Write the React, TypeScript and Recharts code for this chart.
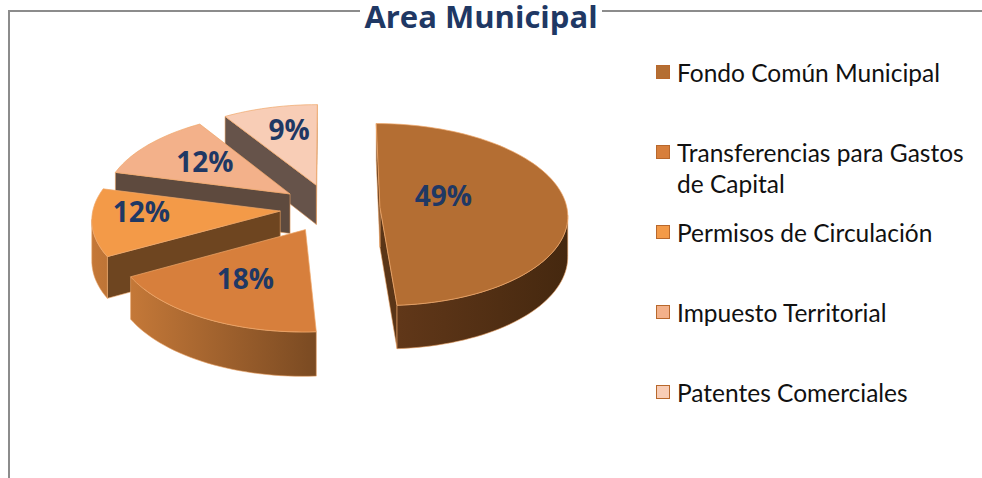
import React from "react";
import { PieChart, Pie, Legend } from "recharts";

const categories = [
  "Fondo Común Municipal",
  "Transferencias para Gastos de Capital",
  "Permisos de Circulación",
  "Impuesto Territorial",
  "Patentes Comerciales",
];
const shares = [49, 18, 12, 12, 9];
const percentLabels = ["49%", "18%", "12%", "12%", "9%"];

// slice colours (top face, radial wall, outer wall gradient)
const topColors = ["#B46E33", "#D77F3C", "#F39A48", "#F3B18A", "#F8CDB6"];
const sideColors = ["#5A3517", "#6E4520", "#6E4520", "#5E4A3E", "#66534A"];
const arcFrom = ["#64391A", "#C47838", "#C47838", "#B8744C", "#C8957A"];
const arcTo = ["#45280F", "#7A4A22", "#7A4A22", "#6E4A38", "#8A6A5A"];

// label placement on each top face (fraction of radius, angle shift)
const labelRadius = [0.37, 0.58, 0.74, 0.62, 0.7];
const labelShift = [19, -2, -7, -3, -3];

const K = 0.484;
const PERSP = 0.08;
const EXPLODE = 50;
const DEPTH = 40;
const NAVY = "#1F3864";

const rad = (d: number) => (d * Math.PI) / 180;

// Recharts draws sectors in data order, so feed them back-to-front
// and sweep counter-clockwise to keep the Excel layout
const pieData = shares
  .map((v, i) => ({ name: categories[i], value: v, idx: i }))
  .reverse();

const Slice3D = (props: any) => {
  const { cx, cy, outerRadius: R, startAngle, endAngle } = props;
  const i: number = props.idx ?? props.payload?.idx ?? 0;
  const a0 = Math.min(startAngle, endAngle);
  const a1 = Math.max(startAngle, endAngle);
  const mid = (a0 + a1) / 2;

  const proj = (X: number, Y: number, z: number) => {
    const p = 1 / (1 + (PERSP * Y) / R);
    return [cx + X * p, cy - Y * K * p + z * DEPTH * p];
  };

  const ax = EXPLODE * Math.cos(rad(mid));
  const ay = EXPLODE * Math.sin(rad(mid));
  const disk: number[][] = [[ax, ay]];
  const steps = Math.max(2, Math.ceil((a1 - a0) / 2));
  for (let s = 0; s <= steps; s++) {
    const t = a0 + ((a1 - a0) * s) / steps;
    disk.push([ax + R * Math.cos(rad(t)), ay + R * Math.sin(rad(t))]);
  }
  const top = disk.map(([X, Y]) => proj(X, Y, 0));
  const bot = disk.map(([X, Y]) => proj(X, Y, 1));

  let area = 0;
  for (let k = 0; k < top.length; k++) {
    const p = top[k];
    const q = top[(k + 1) % top.length];
    area += p[0] * q[1] - q[0] * p[1];
  }
  const visible = (k: number) => {
    const p = top[k];
    const q = top[(k + 1) % top.length];
    const dx = q[0] - p[0];
    return area > 0 ? dx < 0 : dx > 0;
  };
  const pts = (arr: number[][]) => arr.map((p) => `${p[0].toFixed(2)},${p[1].toFixed(2)}`).join(" ");

  const n = top.length;
  const radialWalls: React.ReactNode[] = [];
  [0, n - 1].forEach((k) => {
    if (!visible(k)) return;
    const k2 = (k + 1) % n;
    radialWalls.push(
      <polygon
        key={`r${k}`}
        points={pts([top[k], top[k2], bot[k2], bot[k]])}
        fill={sideColors[i]}
        stroke="#E9A266"
        strokeWidth={0.6}
      />
    );
  });

  const arcWalls: React.ReactNode[] = [];
  let run: number[] = [];
  const flush = () => {
    if (run.length) {
      const first = run[0];
      const last = run[run.length - 1] + 1;
      const upper = top.slice(first, last + 1);
      const lower = bot.slice(first, last + 1).reverse();
      arcWalls.push(
        <polygon
          key={`a${first}`}
          points={pts([...upper, ...lower])}
          fill={`url(#arcGrad${i})`}
          stroke="#E9A266"
          strokeWidth={0.6}
        />
      );
    }
    run = [];
  };
  for (let k = 1; k < n - 1; k++) {
    if (visible(k)) run.push(k);
    else flush();
  }
  flush();

  const xs = top.map((p) => p[0]);
  const minX = Math.min(...xs);
  const maxX = Math.max(...xs);

  const lr = labelRadius[i] * R;
  const la = rad(mid + labelShift[i]);
  const [lx, ly] = proj(ax + lr * Math.cos(la), ay + lr * Math.sin(la), 0);

  return (
    <g>
      <defs>
        <linearGradient id={`arcGrad${i}`} gradientUnits="userSpaceOnUse" x1={minX} y1={0} x2={maxX} y2={0}>
          <stop offset="0%" stopColor={arcFrom[i]} />
          <stop offset="100%" stopColor={arcTo[i]} />
        </linearGradient>
      </defs>
      {radialWalls}
      {arcWalls}
      <polygon points={pts(top)} fill={topColors[i]} stroke="#EFA76A" strokeWidth={0.7} />
      <text
        x={lx}
        y={ly}
        textAnchor="middle"
        dominantBaseline="central"
        fill={NAVY}
        fontFamily="'Open Sans', sans-serif"
        fontWeight={700}
        fontSize={28}
      >
        {percentLabels[i]}
      </text>
    </g>
  );
};

const renderLegend = () => (
  <div style={{ position: "relative", width: 330, height: 420 }}>
    {categories.map((c, i) => (
      <div
        key={c}
        style={{
          position: "absolute",
          left: 0,
          top: 57 + i * 80,
          display: "flex",
          alignItems: "flex-start",
        }}
      >
        <div
          style={{
            width: 12,
            height: 12,
            marginTop: 8,
            marginRight: 7,
            background: topColors[i],
            border: "1.5px solid #B8682C",
            flexShrink: 0,
          }}
        />
        <div
          style={{
            width: 300,
            fontFamily: "Lato, sans-serif",
            fontSize: 24.5,
            lineHeight: "31px",
            color: "#111",
          }}
        >
          {c}
        </div>
      </div>
    ))}
  </div>
);

export default function App() {
  return (
    <div
      style={{
        position: "absolute",
        left: 0,
        top: 0,
        width: 982,
        height: 478,
        overflow: "hidden",
        background: "#fff",
      }}
    >
      <div
        style={{
          position: "absolute",
          left: 8,
          top: 10,
          width: 1100,
          height: 600,
          borderLeft: "2px solid #8c8c8c",
          borderTop: "2px solid #8c8c8c",
        }}
      />
      <div
        style={{
          position: "absolute",
          left: 0,
          top: 0,
          width: 962,
          textAlign: "center",
        }}
      >
        <span
          style={{
            display: "inline-block",
            background: "#fff",
            padding: "0 4px",
            fontFamily: "'Open Sans', sans-serif",
            fontWeight: 700,
            fontSize: 31,
            lineHeight: "32px",
            color: NAVY,
          }}
        >
          Area Municipal
        </span>
      </div>
      <div style={{ position: "absolute", left: 0, top: 0 }}>
        <PieChart width={982} height={478} margin={{ top: 0, right: 0, bottom: 0, left: 0 }}>
          <Pie
            data={pieData}
            dataKey="value"
            nameKey="name"
            cx={330}
            cy={208}
            outerRadius={187}
            startAngle={90}
            endAngle={450}
            stroke="none"
            shape={Slice3D}
            isAnimationActive={false}
          />
          <Legend
            content={renderLegend}
            wrapperStyle={{ position: "absolute", left: 656, top: 0, width: 330 }}
          />
        </PieChart>
      </div>
    </div>
  );
}
